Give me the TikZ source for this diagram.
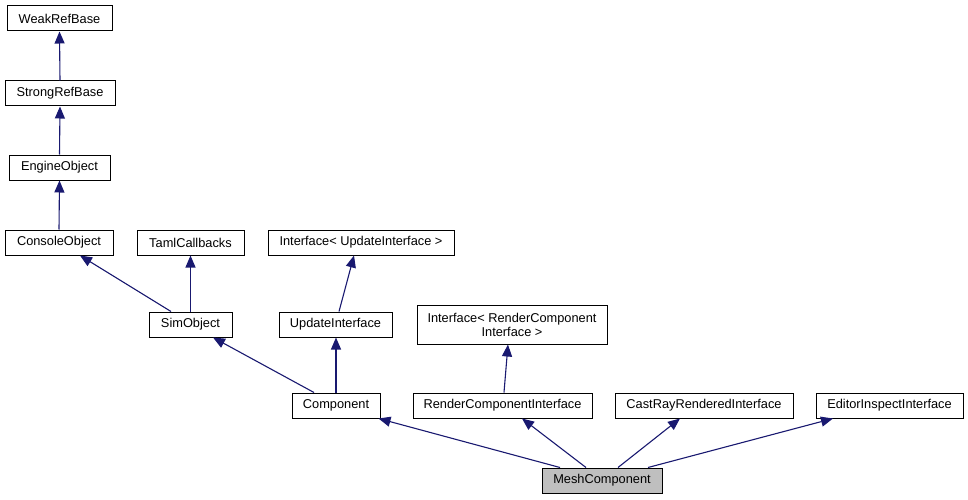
\documentclass[tikz,border=0pt]{standalone}
\usepackage{fontspec}
\setmainfont{Liberation Sans}
\usetikzlibrary{arrows.meta}
\definecolor{edgeblue}{HTML}{191970}
\definecolor{meshgrey}{HTML}{BFBFBF}
\tikzset{
  cls/.style={draw=black, line width=1pt, fill=white, inner sep=0pt, minimum height=25pt,
    font=\fontsize{12.8}{14}\selectfont, align=center},
  inh/.style={draw=edgeblue, line width=1.1pt, -{Triangle[length=12pt,width=10pt]}}
}
\begin{document}
\begin{tikzpicture}[x=1pt,y=-1pt]
\useasboundingbox (0,0) rectangle (968,500);
\node[cls, minimum width=105pt] (weak) at (59.5,18.5) {WeakRefBase};
\node[cls, minimum width=110pt] (strong) at (60,93.5) {StrongRefBase};
\node[cls, minimum width=101pt] (engine) at (59.5,167.5) {EngineObject};
\node[cls, minimum width=108pt] (console) at (59,242.5) {ConsoleObject};
\node[cls, minimum width=107pt] (taml) at (190.5,242.5) {TamlCallbacks};
\node[cls, minimum width=186pt] (ifupd) at (361,242.5) {Interface< UpdateInterface >};
\node[cls, minimum width=83pt] (sim) at (190.5,324.5) {SimObject};
\node[cls, minimum width=113pt] (upd) at (335.5,324.5) {UpdateInterface};
\node[cls, minimum width=190pt, minimum height=39pt] (ifrend) at (512,324.5) {Interface< RenderComponent\\Interface >};
\node[cls, minimum width=88pt] (comp) at (336,405.5) {Component};
\node[cls, minimum width=179pt] (rci) at (502.5,405.5) {RenderComponentInterface};
\node[cls, minimum width=178pt] (cast) at (704,405.5) {CastRayRenderedInterface};
\node[cls, minimum width=147pt] (editor) at (889.5,405.5) {EditorInspectInterface};
\node[cls, minimum width=120pt, fill=meshgrey] (mesh) at (602,480.5) {MeshComponent};

\draw[inh] (strong.north) -- (weak.south);
\draw[inh] (engine.north) -- (strong.south);
\draw[inh] (console.north) -- (engine.south);
\draw[inh] ([xshift=-19.5pt]sim.north) -- ([xshift=21pt]console.south);
\draw[inh] (sim.north) -- (taml.south);
\draw[inh] ([xshift=3.5pt]upd.north) -- ([xshift=-7pt]ifupd.south);
\draw[inh] ([xshift=-22pt]comp.north) -- ([xshift=22.5pt]sim.south);
\draw[inh] (comp.north) -- (upd.south -| comp.north);
\draw[inh] ([xshift=1.5pt]rci.north) -- ([xshift=-4pt]ifrend.south);
\draw[inh] ([xshift=-42pt]mesh.north) -- ([xshift=-2pt]comp.south east);
\draw[inh] ([xshift=-16pt]mesh.north) -- ([xshift=19.5pt]rci.south);
\draw[inh] ([xshift=16pt]mesh.north) -- ([xshift=-24pt]cast.south);
\draw[inh] ([xshift=46pt]mesh.north) -- ([xshift=-56.5pt]editor.south);
\end{tikzpicture}
\end{document}
